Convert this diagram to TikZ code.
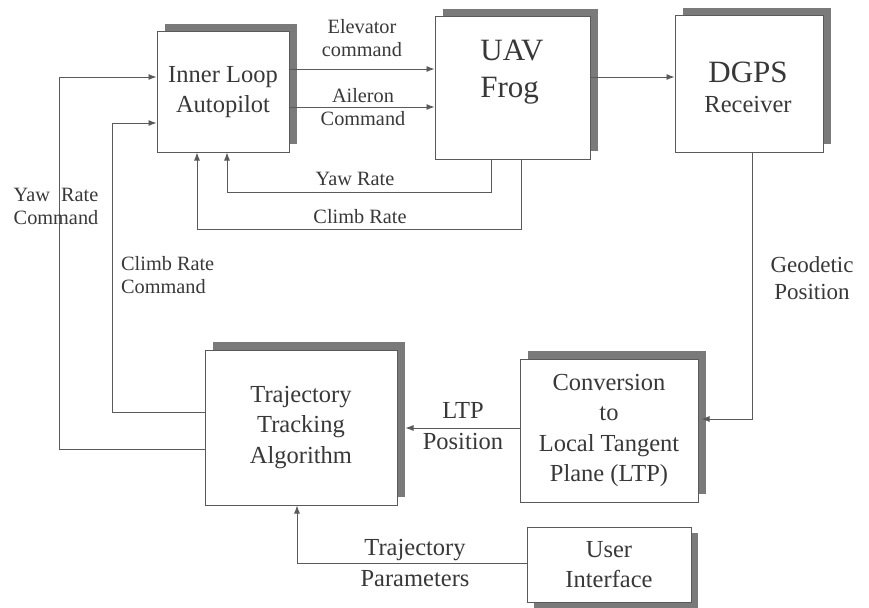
\documentclass[tikz,border=0pt]{standalone}
\usepackage{fontspec}
\setmainfont{Liberation Serif}
\usetikzlibrary{arrows.meta,shadows}
\definecolor{linecol}{HTML}{5A5A5A}
\definecolor{shadowcol}{HTML}{7A7A7A}
\definecolor{textcol}{HTML}{383838}
\newcommand\boxfont{\fontsize{24.5}{30.5}\selectfont}
\newcommand\hugefont{\fontsize{31}{37}\selectfont}
\newcommand\lblfont{\fontsize{20.3}{23}\selectfont}
\newcommand\midfont{\fontsize{24.5}{31}\selectfont}
\begin{document}
\begin{tikzpicture}[x=1pt,y=-1pt,
  box/.style={draw=linecol, line width=1pt, fill=white, text=textcol, align=center, inner sep=0pt,
    general shadow={fill=shadowcol, shadow xshift=8pt, shadow yshift=8pt}},
  boxlow/.style={draw=linecol, line width=1pt, fill=white, text=textcol, align=center, inner sep=0pt,
    general shadow={fill=shadowcol, shadow xshift=7pt, shadow yshift=-6pt}},
  lbl/.style={text=textcol, align=center, inner sep=0pt},
  conn/.style={draw=linecol, line width=0.9pt, -{Latex[length=8pt,width=6pt]}}]
\useasboundingbox (0,0) rectangle (869,607);

% boxes
\node[box, minimum width=132pt, minimum height=120pt, font=\boxfont] (inner) at (223,92) {Inner Loop\\Autopilot};
\node[box, minimum width=155pt, minimum height=142pt] (uav) at (512.5,88) {};
\node[lbl, align=left, font=\hugefont] (uavtxt) at (512,72) {UAV\\Frog};
\node[box, minimum width=148pt, minimum height=136pt] (dgps) at (749,84) {};
\node[lbl, font=\hugefont] (dgpstxt) at (748,72) {DGPS};
\node[lbl, font=\boxfont] (rectxt) at (748,104.5) {Receiver};
\node[box, minimum width=192pt, minimum height=155pt, font=\boxfont] (traj) at (301,427.5) {Trajectory\\Tracking\\Algorithm};
\node[box, minimum width=178pt, minimum height=143pt, font=\boxfont] (conv) at (609,430.5) {Conversion\\to\\Local Tangent\\Plane (LTP)};
\node[boxlow, minimum width=164pt, minimum height=75pt, font=\boxfont] (user) at (609,564.5) {User\\Interface};

% connectors
\draw[conn] (inner.east |- 0,69) -- (uav.west |- 0,69);
\draw[conn] (inner.east |- 0,107) -- (uav.west |- 0,107);
\draw[conn] (uav.east |- 0,77) -- (dgps.west |- 0,77);
\draw[conn] (uav.south -| 491,0) -- (491,192) -| (inner.south -| 227,0);
\draw[conn] (uav.south -| 521,0) -- (521,229) -| (inner.south -| 197,0);
\draw[conn] (traj.west |- 0,449) -- (59,449) |- (inner.west |- 0,77);
\draw[conn] (traj.west |- 0,412) -- (112,412) |- (inner.west |- 0,123);
\draw[conn, shorten >=3pt] (dgps.south -| 752,0) |- (conv.east |- 0,419);
\draw[conn, shorten >=8pt] (conv.west |- 0,428) -- (traj.east |- 0,428);
\draw[conn] (user.west |- 0,563) -| (traj.south -| 297,0);

% labels
\node[lbl, font=\lblfont] (lelev) at (362,38.5) {Elevator\\command};
\node[lbl, font=\lblfont] (lail) at (363,107) {Aileron\\Command};
\node[lbl, font=\lblfont] (lyaw) at (355,179) {Yaw Rate};
\node[lbl, font=\lblfont] (lclimb) at (360,217) {Climb Rate};
\node[lbl, font=\lblfont] (lyawc) at (56,206) {Yaw\hspace{0.55em}Rate\\Command};
\node[lbl, font=\lblfont, align=left, anchor=west] (lclimbc) at (121,275) {Climb Rate\\Command};
\node[lbl, font=\fontsize{23}{27}\selectfont] (lgeo) at (812,278.5) {Geodetic\\Position};
\node[lbl, font=\midfont] (lltp) at (463,426) {LTP\\Position};
\node[lbl, font=\midfont] (lpar) at (415,563) {Trajectory\\Parameters};
\end{tikzpicture}
\end{document}
